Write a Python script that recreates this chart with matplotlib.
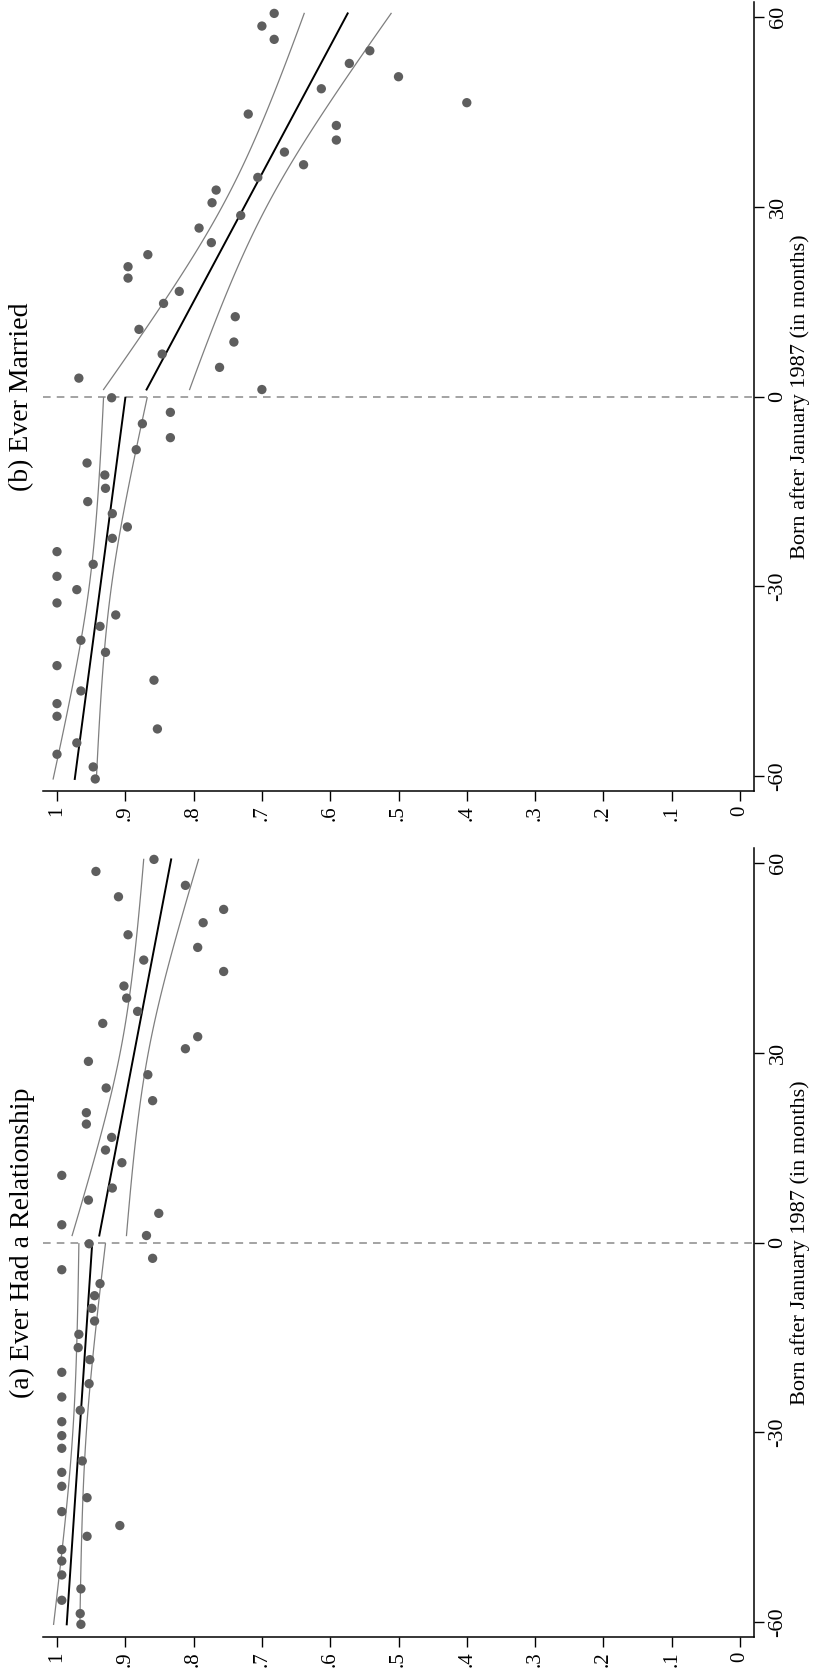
import numpy as np
import matplotlib.pyplot as plt

plt.rcParams['font.family'] = ['Liberation Serif', 'DejaVu Serif']

# (a) Ever had a relationship: binned means by birth month
months_a = [60.5, 58.6, 56.4, 54.6, 52.6, 50.5, 48.6, 46.6, 44.6, 42.8, 40.5, 38.6,
            36.5, 34.6, 32.5, 30.6, 28.6, 26.5, 24.4, 22.4, 20.5, 18.7, 16.6, 14.6,
            12.6, 10.6, 8.6, 6.7, 4.6, 2.8, 1.1,
            -0.2, -2.5, -4.3, -6.5, -8.4, -10.4, -12.4, -14.5, -16.6, -18.5, -20.5,
            -22.3, -24.4, -26.5, -28.3, -30.5, -32.5, -34.5, -36.3, -38.5, -40.3,
            -42.5, -44.7, -46.4, -48.5, -50.3, -52.5, -54.7, -56.5, -58.6, -60.3]
share_a = [.858, .943, .812, .910, .756, .786, .896, .794, .873, .756, .902, .898,
           .882, .933, .794, .812, .954, .867, .928, .860, .957, .957, .920, .929,
           .905, .993, .919, .954, .851, .993, .869,
           .953, .860, .993, .937, .945, .949, .945, .968, .969, .952, .993,
           .953, .993, .966, .993, .993, .993, .963, .993, .993, .956,
           .993, .908, .956, .993, .993, .993, .965, .993, .966, .965]

# (b) Ever married
months_b = [60.5, 58.5, 56.4, 54.6, 52.6, 50.5, 48.6, 46.4, 44.6, 42.8, 40.5, 38.6,
            36.6, 34.6, 32.6, 30.6, 28.6, 26.6, 24.3, 22.4, 20.5, 18.7, 16.6, 14.7,
            12.6, 10.6, 8.6, 6.7, 4.6, 2.9, 1.1,
            -0.2, -2.5, -4.3, -6.5, -8.4, -10.5, -12.4, -14.5, -16.6, -18.5, -20.6,
            -22.4, -24.5, -26.5, -28.4, -30.5, -32.6, -34.5, -36.3, -38.5, -40.4,
            -42.5, -44.8, -46.5, -48.5, -50.5, -52.5, -54.7, -56.5, -58.5, -60.4]
share_b = [.682, .700, .682, .542, .572, .500, .613, .400, .720, .591, .591, .667,
           .639, .706, .767, .773, .731, .792, .774, .867, .896, .896, .821, .844,
           .739, .880, .741, .846, .762, .968, .700,
           .920, .834, .875, .834, .884, .956, .930, .929, .955, .919, .897,
           .919, 1.0, .947, 1.0, .971, 1.0, .914, .937, .965, .929,
           1.0, .858, .965, 1.0, 1.0, .853, .971, 1.0, .947, .944]

titles = ['(a) Ever Had a Relationship', '(b) Ever Married']
value_ticks = [0, .1, .2, .3, .4, .5, .6, .7, .8, .9, 1]
value_labels = ['0', '.1', '.2', '.3', '.4', '.5', '.6', '.7', '.8', '.9', '1']
month_ticks = [-60, -30, 0, 30, 60]


def fit_side(ax, m, v):
    m = np.asarray(m)
    v = np.asarray(v)
    coef = np.polyfit(m, v, 1)
    grid = np.linspace(m.min(), m.max(), 100)
    pred = np.polyval(coef, grid)
    resid = v - np.polyval(coef, m)
    n = len(m)
    s = np.sqrt(np.sum(resid ** 2) / (n - 2))
    se = s * np.sqrt(1 / n + (grid - m.mean()) ** 2 / np.sum((m - m.mean()) ** 2))
    ax.plot(pred, grid, color='black', lw=1.4, zorder=3)
    ax.plot(pred + 1.96 * se, grid, color='#7f7f7f', lw=0.9, zorder=2)
    ax.plot(pred - 1.96 * se, grid, color='#7f7f7f', lw=0.9, zorder=2)


fig = plt.figure(figsize=(8.14, 16.75), dpi=100)
ax_b = fig.add_axes([43 / 814, (1675 - 791) / 1675, 711 / 814, 789 / 1675])
ax_a = fig.add_axes([43 / 814, (1675 - 1637) / 1675, 711 / 814, 789 / 1675])

for ax, m, v, title in [(ax_a, months_a, share_a, titles[0]), (ax_b, months_b, share_b, titles[1])]:
    m = np.asarray(m)
    v = np.asarray(v)
    ax.scatter(v, m, s=45, color='#5e5e5e', edgecolors='none', zorder=4)
    fit_side(ax, m[m <= 0], v[m <= 0])
    fit_side(ax, m[m > 0], v[m > 0])
    ax.axhline(0, color='#8a8a8a', lw=1.1, ls=(0, (5, 4)), zorder=1)
    ax.set_xlim(1.0205, -0.0205)
    ax.set_ylim(-62.3, 62.3)
    for sp in ['top', 'left']:
        ax.spines[sp].set_visible(False)
    ax.spines['bottom'].set_linewidth(1.1)
    ax.spines['right'].set_linewidth(1.1)
    ax.yaxis.tick_right()
    ax.yaxis.set_label_position('right')
    ax.set_xticks(value_ticks)
    ax.set_xticklabels(value_labels, rotation=90, fontsize=15)
    ax.set_yticks(month_ticks)
    ax.set_yticklabels([str(t) for t in month_ticks], rotation=90, fontsize=16, va='center')
    ax.tick_params(length=7, width=1)
    ax.set_ylabel('Born after January 1987 (in months)', rotation=90, fontsize=16, labelpad=2)
    pos = ax.get_position()
    fig.text(22 / 814, pos.y0 + pos.height / 2, title, rotation=90,
             ha='center', va='center', fontsize=20)

fig.savefig('out.png', dpi=100)
